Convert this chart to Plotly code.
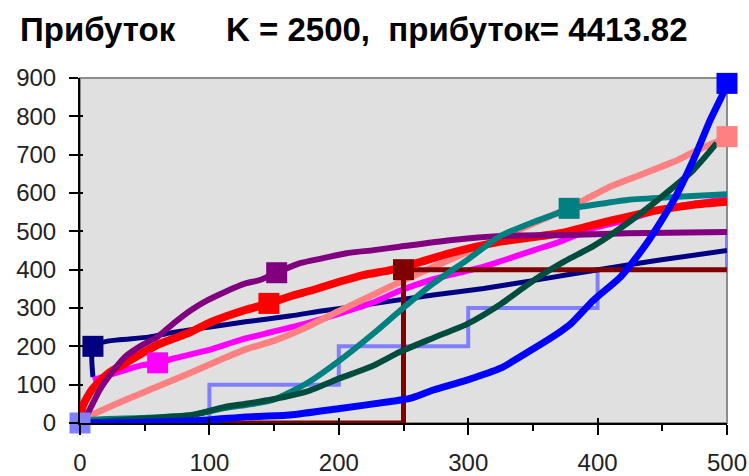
import plotly.graph_objects as go

# ---- series data ----
navy_x = [10, 10, 22, 53, 73, 99, 128, 162, 188, 214, 240, 273, 312, 351, 379, 410, 448, 500]
navy_y = [120, 200, 214, 224, 237, 250, 264, 279, 293, 305, 318, 334, 351, 372, 388, 405, 425, 450]
navy_mark = ([10], [200])

purple_x = [0, 5, 9, 15, 22, 35, 48, 60, 73, 86, 99, 112, 128, 139, 152, 170, 188, 206, 227, 247, 286, 325, 371, 423, 500]
purple_y = [0, 20, 45, 85, 120, 173, 203, 225, 262, 295, 321, 342, 364, 373, 392, 417, 430, 443, 451, 460, 477, 488, 490, 495, 498]
purple_mark = ([152], [392])

red_x = [0, 2, 9, 22, 35, 48, 60, 73, 86, 99, 112, 128, 146, 162, 180, 201, 219, 240, 260, 286, 325, 371, 397, 423, 448, 474, 500]
red_y = [0, 43, 86, 130, 156, 182, 204, 221, 238, 260, 277, 295, 312, 330, 347, 369, 386, 399, 417, 443, 473, 495, 517, 538, 556, 569, 577]
red_mark = ([146], [312])

magenta_x = [10, 22, 35, 48, 60, 73, 99, 124, 149, 175, 201, 227, 247, 273, 312, 351, 371, 397, 423, 448, 474, 500]
magenta_y = [112, 125, 138, 151, 157, 169, 190, 217, 238, 260, 286, 315, 345, 375, 408, 451, 473, 508, 530, 556, 572, 584]
magenta_mark = ([60], [157])

salmon_x = [0, 10, 35, 60, 86, 112, 128, 150, 175, 200, 225, 250, 275, 300, 325, 350, 375, 387, 410, 436, 462, 477, 500]
salmon_y = [0, 22, 60, 95, 132, 170, 192, 215, 250, 292, 332, 372, 410, 447, 483, 520, 557, 577, 617, 651, 686, 712, 745]
salmon_mark = ([500], [747])

teal_x = [0, 9, 48, 86, 112, 128, 149, 175, 201, 227, 247, 273, 299, 325, 351, 369, 378, 387, 423, 462, 500]
teal_y = [0, 8, 13, 21, 39, 47, 60, 103, 164, 234, 292, 364, 425, 488, 525, 547, 560, 564, 582, 590, 597]
teal_mark = ([378], [560])

dgreen_x = [0, 48, 86, 112, 128, 149, 175, 201, 227, 247, 273, 299, 325, 351, 371, 379, 397, 423, 448, 474, 492]
dgreen_y = [0, 12, 20, 42, 50, 62, 82, 117, 150, 185, 222, 258, 310, 373, 415, 430, 462, 521, 586, 660, 730]

blue_x = [0, 50, 99, 128, 162, 201, 240, 255, 273, 299, 325, 351, 371, 379, 397, 418, 438, 459, 474, 487, 497, 500]
blue_y = [0, 2, 8, 16, 21, 38, 56, 64, 86, 112, 143, 195, 238, 258, 321, 382, 469, 582, 686, 790, 860, 886]
blue_mark = ([500], [886])

maroon_x = [0, 250, 250, 500]
maroon_y = [0, 0, 400, 400]
maroon_mark = ([250], [400])

peri_x = [0, 100, 100, 200, 200, 300, 300, 400, 400, 500, 500]
peri_y = [0, 0, 100, 100, 200, 200, 300, 300, 400, 400, 500]
peri_mark = ([0], [0])

x_ticks = [0, 100, 200, 300, 400, 500]
y_ticks = [0, 100, 200, 300, 400, 500, 600, 700, 800, 900]

title_left = "Прибуток"
title_right = "K = 2500,\u00a0\u00a0прибуток= 4413.82"

FONT = "Liberation Sans, Arial, sans-serif"

fig = go.Figure()


def add_line(xs, ys, color, width, smooth=True):
    line = dict(color=color, width=width)
    if smooth:
        line.update(shape="spline", smoothing=0.6)
    fig.add_trace(go.Scatter(x=xs, y=ys, mode="lines", line=line,
                             cliponaxis=False, hoverinfo="skip", showlegend=False))


def add_mark(pt, color):
    fig.add_trace(go.Scatter(x=pt[0], y=pt[1], mode="markers",
                             marker=dict(symbol="square", size=21, color=color,
                                         line=dict(width=0)),
                             cliponaxis=False, hoverinfo="skip", showlegend=False))


# drawing order: bottom to top
add_line(peri_x, peri_y, "#8080FF", 4, smooth=False)
add_line(navy_x, navy_y, "#000080", 5)
add_line(magenta_x, magenta_y, "#FF00FF", 6)
add_line(salmon_x, salmon_y, "#FF8080", 6.5)
add_line(maroon_x, maroon_y, "#800000", 5, smooth=False)
add_line(red_x, red_y, "#FF0000", 8)
add_line(purple_x, purple_y, "#800080", 6)
add_line(teal_x, teal_y, "#008080", 6)
add_line(dgreen_x, dgreen_y, "#004D40", 6)
add_line(blue_x, blue_y, "#0000FF", 7)

add_mark(navy_mark, "#000080")
add_mark(purple_mark, "#800080")
add_mark(red_mark, "#FF0000")
add_mark(magenta_mark, "#FF00FF")
add_mark(salmon_mark, "#FF8080")
add_mark(teal_mark, "#008080")
add_mark(maroon_mark, "#800000")
add_mark(blue_mark, "#0000FF")
add_mark(peri_mark, "#8080FF")

# empty trace that carries the inner halves of the crossing tick marks
fig.add_trace(go.Scatter(x=[], y=[], xaxis="x2", yaxis="y2", showlegend=False))

fig.update_layout(
    width=749, height=476,
    margin=dict(l=80, r=22, t=78, b=53),
    paper_bgcolor="white",
    plot_bgcolor="#E0E0E0",
    font=dict(family=FONT, color="#1a1a1a"),
    xaxis=dict(range=[0, 500], tickvals=x_ticks, ticks="outside", ticklen=10,
               tickwidth=1.5, tickcolor="black", showline=True, linecolor="black",
               linewidth=1.5, showgrid=False, zeroline=False, automargin=False,
               tickfont=dict(size=24, family=FONT, color="#222"),
               ticklabelstandoff=7,
               minor=dict(ticks="outside", ticklen=6, dtick=50, tickwidth=1.5,
                          tickcolor="black", showgrid=False),
               fixedrange=True),
    yaxis=dict(range=[0, 900], tickvals=y_ticks, ticks="outside", ticklen=9,
               tickwidth=1.5, tickcolor="black", showline=True, linecolor="black",
               linewidth=2, showgrid=False, zeroline=False, automargin=False,
               tickfont=dict(size=24, family=FONT, color="#222"),
               ticklabelstandoff=8, fixedrange=True),
    xaxis2=dict(range=[0, 500], overlaying="x", anchor="y2", tickvals=x_ticks,
                ticks="inside", ticklen=5, tickwidth=1.5, tickcolor="black",
                showticklabels=False, showline=False, showgrid=False, zeroline=False),
    yaxis2=dict(range=[0, 900], overlaying="y", anchor="x2", tickvals=y_ticks,
                ticks="inside", ticklen=3, tickwidth=1.5, tickcolor="black",
                showticklabels=False, showline=False, showgrid=False, zeroline=False),
    shapes=[dict(type="rect", xref="paper", yref="paper", x0=0, x1=1, y0=0, y1=1,
                 line=dict(color="#8C8C8C", width=2), fillcolor="rgba(0,0,0,0)",
                 layer="below")],
    annotations=[
        dict(text=title_left, xref="paper", yref="paper", x=-0.096, y=1.14,
             xanchor="left", yanchor="middle", showarrow=False,
             font=dict(size=33, family=FONT, color="black", weight="bold")),
        dict(text=title_right, xref="paper", yref="paper", x=0.2226, y=1.14,
             xanchor="left", yanchor="middle", showarrow=False,
             font=dict(size=33, family=FONT, color="black", weight="bold")),
    ],
)

fig.write_html("out.html")
